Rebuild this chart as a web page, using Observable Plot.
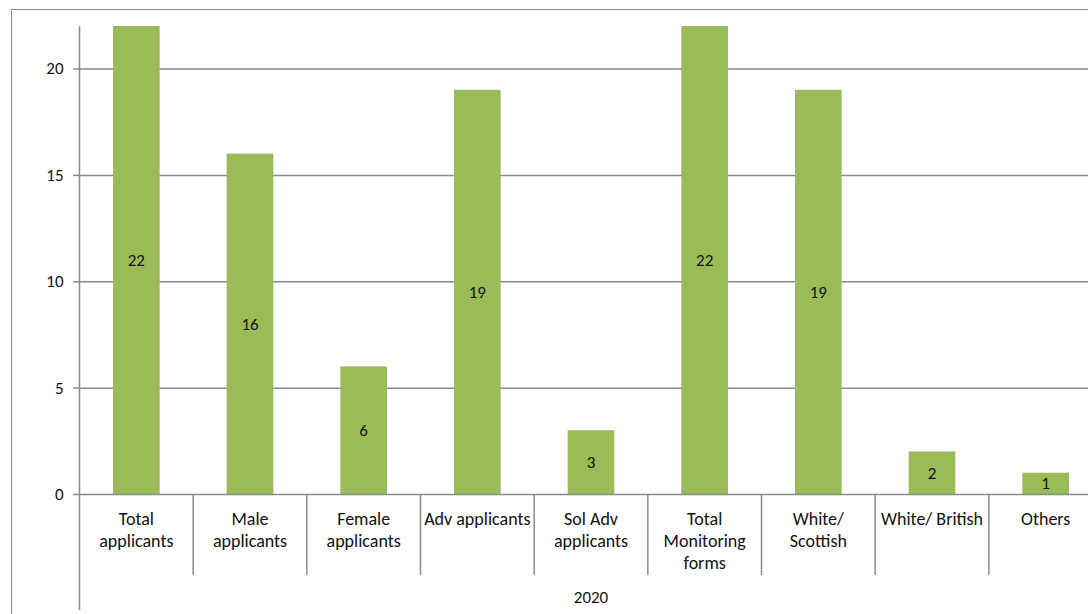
<!DOCTYPE html>
<html>
<head>
<meta charset="utf-8">
<script src="https://cdn.jsdelivr.net/npm/d3@7"></script>
<script src="https://cdn.jsdelivr.net/npm/@observablehq/plot@0.6"></script>
<style>
  html, body { margin: 0; padding: 0; background: #fff; overflow: hidden; }
  #wrap { position: relative; width: 1088px; height: 614px; overflow: hidden; }
  #frame { position: absolute; left: 11px; top: 9px; width: 2000px; height: 2000px;
           border-left: 1.5px solid #8a8a8a; border-top: 1.5px solid #8a8a8a; pointer-events: none; }
  #chart svg { display: block; }
</style>
</head>
<body>
<div id="wrap"><div id="frame"></div><div id="chart"></div></div>
<script>
// ---- data ----
const categories = ["Total applicants", "Male applicants", "Female applicants", "Adv applicants",
  "Sol Adv applicants", "Total Monitoring forms", "White/ Scottish", "White/ British", "Others"];
const categoryLabels = ["Total\napplicants", "Male\napplicants", "Female\napplicants", "Adv applicants",
  "Sol Adv\napplicants", "Total\nMonitoring\nforms", "White/\nScottish", "White/ British", "Others"];
const values = [22, 16, 6, 19, 3, 22, 19, 2, 1];
const yTicks = [0, 5, 10, 15, 20];
const groupLabel = ["2020"];

const data = categories.map((c, i) => ({cat: c, label: categoryLabels[i], value: values[i]}));

// ---- layout ----
const W = 1088, H = 614;
const xStart = 79, xEnd = 1102;          // plot area extends past the right edge (cropped)
const bw = (xEnd - xStart) / categories.length;
const grid = "#8a8a8a";
const font = "Carlito, Lato, 'Open Sans', sans-serif";

const chart = Plot.plot({
  width: W, height: H,
  marginLeft: xStart, marginRight: 0, marginTop: 26, marginBottom: 120,
  style: {fontFamily: font, color: "#111", background: "transparent", overflow: "visible"},
  x: {domain: categories, range: [xStart, xEnd], padding: 0, round: false, axis: null},
  y: {domain: [0, 22], axis: null},
  marks: [
    Plot.ruleY(yTicks.filter(d => d > 0), {stroke: grid, strokeWidth: 1.5}),
    Plot.barY(data, {x: "cat", y: "value", fill: "#9BBB59", insetLeft: 34, insetRight: 33}),
    Plot.ruleY([0], {stroke: grid, strokeWidth: 1.5}),
    // vertical axis line, extending down through the category area
    Plot.ruleX([categories[0]], {x: d => d, dx: -bw / 2, stroke: grid, strokeWidth: 1.5, insetBottom: -116}),
    // category separators below the baseline
    Plot.ruleX(categories.slice(1), {x: d => d, dx: -bw / 2, stroke: grid, strokeWidth: 1.5, insetTop: 468, insetBottom: -81}),
    Plot.axisY({ticks: yTicks, tickSize: 6, tickPadding: 10, stroke: grid, strokeWidth: 1.5,
      fontSize: 17, fill: "#111", label: null, anchor: "left"}),
    Plot.text(data, {x: "cat", y: d => d.value / 2, text: d => String(d.value), fontSize: 17, fill: "#111"}),
    Plot.text(data, {x: "cat", text: "label", frameAnchor: "bottom", lineAnchor: "top", dy: 15,
      lineHeight: 1.22, fontSize: 18, fill: "#111"}),
    Plot.text(groupLabel, {text: d => d, frameAnchor: "bottom", dx: (xEnd - W) / 2, dy: 108,
      fontSize: 17, fill: "#111"})
  ]
});
document.getElementById("chart").appendChild(chart);
</script>
</body>
</html>
